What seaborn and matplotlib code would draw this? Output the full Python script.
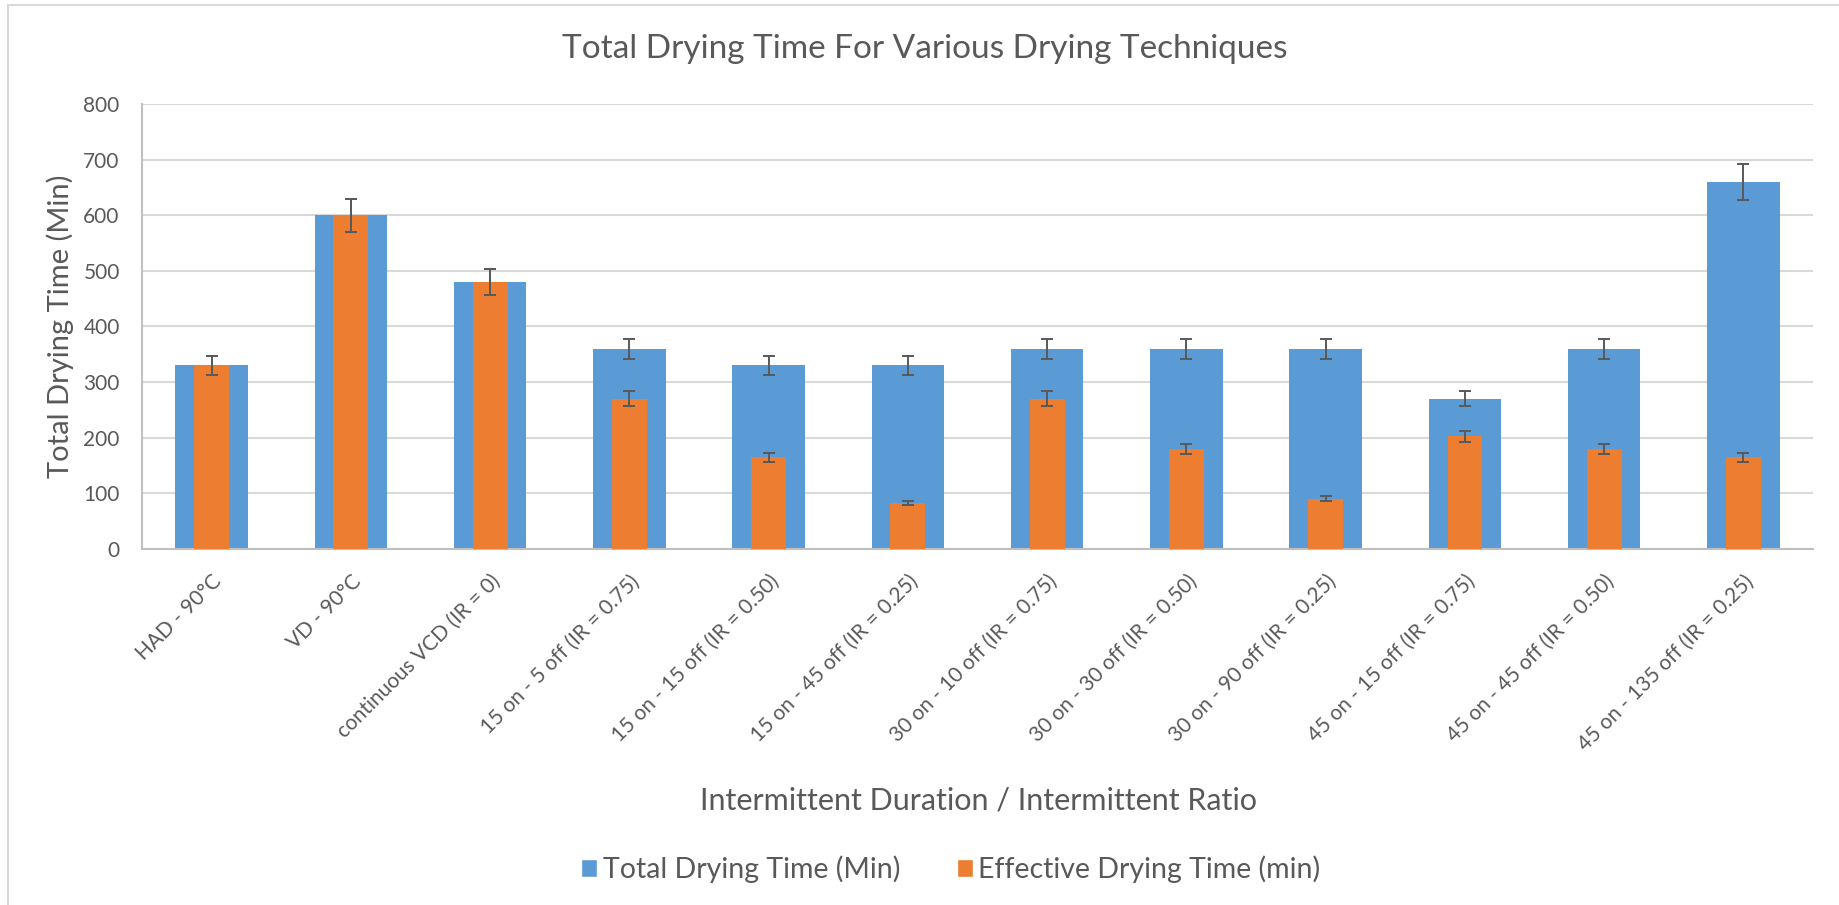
import matplotlib
matplotlib.use("Agg")
import matplotlib.pyplot as plt
from matplotlib.patches import Patch, Rectangle
import pandas as pd
import seaborn as sns

# Chart data
techniques = [
    "HAD - 90°C", "VD - 90°C", "continuous VCD (IR = 0)",
    "15 on - 5 off (IR = 0.75)", "15 on - 15 off (IR = 0.50)", "15 on - 45 off (IR = 0.25)",
    "30 on - 10 off (IR = 0.75)", "30 on - 30 off (IR = 0.50)", "30 on - 90 off (IR = 0.25)",
    "45 on - 15 off (IR = 0.75)", "45 on - 45 off (IR = 0.50)", "45 on - 135 off (IR = 0.25)",
]
total_time = [330, 600, 480, 360, 330, 330, 360, 360, 360, 270, 360, 660]
effective_time = [330, 600, 480, 270, 165, 82.5, 270, 180, 90, 202.5, 180, 165]
total_err = [16.5, 30, 24, 18, 16.5, 16.5, 18, 18, 18, 13.5, 18, 33]
effective_err = [16.5, 30, 24, 13.5, 8.25, 4.1, 13.5, 9, 4.5, 10.1, 9, 8.25]

BLUE = "#5B9BD5"
ORANGE = "#ED7D31"
TEXT = "#595959"

sns.set_theme(style="white")
plt.rcParams["font.family"] = ["Lato", "DejaVu Sans"]

df = pd.DataFrame({"technique": techniques, "total": total_time, "effective": effective_time})

fig = plt.figure(figsize=(18.39, 9.05), dpi=100)
ax = fig.add_axes([0.0772, 0.3934, 0.9087, 0.4917])

sns.barplot(data=df, x="technique", y="total", color=BLUE, width=0.52, ax=ax,
            saturation=1, linewidth=0, zorder=2)
sns.barplot(data=df, x="technique", y="effective", color=ORANGE, width=0.25, ax=ax,
            saturation=1, linewidth=0, zorder=3)

pos = range(len(techniques))
ax.errorbar(pos, total_time, yerr=total_err, fmt="none", ecolor=TEXT,
            elinewidth=1.4, capsize=4.5, capthick=1.4, zorder=4)
ax.errorbar(pos, effective_time, yerr=effective_err, fmt="none", ecolor=TEXT,
            elinewidth=1.4, capsize=4.5, capthick=1.4, zorder=4)

ax.set_xlim(-0.5, len(techniques) - 0.5)
ax.set_ylim(0, 800)
ax.set_yticks(range(0, 801, 100))
ax.yaxis.grid(True, color="#D9D9D9", linewidth=1.5, zorder=0)
ax.set_axisbelow(True)
for side in ["top", "right"]:
    ax.spines[side].set_visible(False)
for side in ["left", "bottom"]:
    ax.spines[side].set_color("#BFBFBF")
    ax.spines[side].set_linewidth(1.5)

ax.tick_params(axis="y", length=0, pad=16, labelsize=15, labelcolor=TEXT)
ax.tick_params(axis="x", length=0, pad=16)
ax.set_xticks(list(pos))
ax.set_xticklabels(techniques, rotation=45, ha="right", rotation_mode="anchor",
                   fontsize=15, color=TEXT)
ax.set_xlabel("")
ax.set_ylabel("")

fig.text(0.503, 0.946, "Total Drying Time For Various Drying Techniques",
         ha="center", va="center", fontsize=24, color=TEXT)
fig.text(0.0326, 0.639, "Total Drying Time (Min)", rotation=90,
         ha="center", va="center", fontsize=21, color=TEXT)
fig.text(0.532, 0.115, "Intermittent Duration / Intermittent Ratio",
         ha="center", va="center", fontsize=22, color=TEXT)

handles = [Patch(facecolor=BLUE, label="Total Drying Time (Min)"),
           Patch(facecolor=ORANGE, label="Effective Drying Time (min)")]
leg = fig.legend(handles=handles, loc="center", bbox_to_anchor=(0.517, 0.04), ncol=2,
                 frameon=False, fontsize=20.5, handlelength=0.55, handleheight=0.6,
                 handletextpad=0.2, columnspacing=2.0)
for t in leg.get_texts():
    t.set_color(TEXT)

# light chart-area border (top and left edges visible)
fig.patches.append(Rectangle((8 / 1839, -0.1), 1.2, 1 - 5 / 905 + 0.1,
                             transform=fig.transFigure, fill=False,
                             edgecolor="#D9D9D9", linewidth=1.5))

fig.savefig("out.png", dpi=100)
